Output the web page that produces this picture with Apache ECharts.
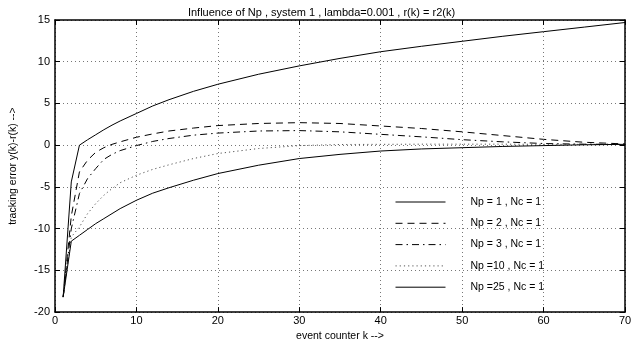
<!DOCTYPE html>
<html>
<head>
<meta charset="utf-8">
<script src="https://cdn.jsdelivr.net/npm/echarts@6/dist/echarts.min.js"></script>
<style>html,body{margin:0;padding:0;background:#fff}#c{width:643px;height:347px}</style>
</head>
<body>
<div id="c"></div>
<script>
var titleText = 'Influence of Np , system 1 , lambda=0.001 , r(k) = r2(k)';
var xName = 'event counter k -->';
var yName = 'tracking error y(k)-r(k) -->';
var kValues = [1,2,3,4,5,6,7,8,10,12,14,17,20,25,30,35,40,45,50,55,60,65,70];
var seriesNames = ['Np = 1 , Nc = 1','Np = 2 , Nc = 1','Np = 3 , Nc = 1','Np =10 , Nc = 1','Np =25 , Nc = 1'];
var np1  = [-18.2,-4.4,0,0.65,1.25,1.85,2.4,2.9,3.8,4.7,5.45,6.45,7.3,8.5,9.5,10.4,11.2,11.85,12.45,13.05,13.6,14.15,14.7];
var np2  = [-18.2,-8.5,-3.2,-1.8,-0.85,-0.3,0.1,0.4,0.95,1.35,1.7,2.05,2.35,2.6,2.7,2.6,2.3,2.0,1.6,1.15,0.7,0.35,0.15];
var np3  = [-18.2,-10,-5.8,-4.0,-2.8,-1.7,-1.1,-0.65,-0.05,0.45,0.8,1.2,1.45,1.7,1.75,1.6,1.3,1.0,0.66,0.4,0.2,0.12,0.1];
var np10 = [-18.2,-11,-9.8,-8.2,-7.0,-6.0,-5.2,-4.5,-3.6,-2.9,-2.35,-1.6,-1.0,-0.4,-0.05,0.08,0.1,0.12,0.12,0.12,0.1,0.1,0.1];
var np25 = [-18.2,-11.5,-10.8,-10.1,-9.4,-8.8,-8.2,-7.6,-6.6,-5.75,-5.1,-4.2,-3.4,-2.4,-1.6,-1.1,-0.7,-0.45,-0.3,-0.15,-0.05,0.05,0.1];
var xTicks = [0,10,20,30,40,50,60,70];
var yTicks = [-20,-15,-10,-5,0,5,10,15];

var allValues = [np1, np2, np3, np10, np25];
var styles = [
  {type:'solid', color:'#000'},
  {type:[7,5], color:'#000'},
  {type:[7,4,1.5,4], color:'#000'},
  {type:[1.2,3], color:'#555'},
  {type:'solid', color:'#000'}
];
function pairs(v){ return kValues.map(function(k,i){return [k, v[i]];}); }
var FONT = '"Liberation Sans", Arial, sans-serif';
var axisLineStyle = {show:true, onZero:false, lineStyle:{color:'#000', width:1.5}};
var axisTickStyle = {show:true, inside:true, length:5, lineStyle:{color:'#000'}};
var gridLine = {show:true, lineStyle:{color:'#777', type:[1,3], width:1}};
var chart = echarts.init(document.getElementById('c'), null, {renderer:'canvas'});
chart.setOption({
  animation:false,
  backgroundColor:'#fff',
  title:{text:titleText, left:'center', top:2, textStyle:{fontFamily:FONT, fontSize:11, fontWeight:'normal', color:'#000'}},
  grid:{left:53, right:18, top:20, bottom:27.5},
  legend:{
    orient:'vertical', left:395, top:195, padding:0, itemWidth:50, itemHeight:14, itemGap:7.3,
    data:seriesNames,
    itemStyle:{opacity:0},
    lineStyle:{width:1},
    textStyle:{fontFamily:FONT, fontSize:10.5, color:'#000', padding:[0,0,0,20], lineHeight:14}
  },
  xAxis:[
    {type:'value', min:0, max:70, interval:10, position:'bottom',
      name:xName, nameLocation:'middle', nameGap:13,
      nameTextStyle:{fontFamily:FONT, fontSize:10.5, color:'#000'},
      axisLabel:{fontFamily:FONT, fontSize:11, color:'#000', margin:3},
      axisLine:axisLineStyle, axisTick:axisTickStyle, splitLine:gridLine},
    {type:'value', min:0, max:70, interval:10, position:'top',
      axisLabel:{show:false}, axisLine:axisLineStyle, axisTick:axisTickStyle, splitLine:{show:false}}
  ],
  yAxis:[
    {type:'value', min:-20, max:15, interval:5, position:'left',
      name:yName, nameLocation:'middle', nameGap:36, nameRotate:90,
      nameTextStyle:{fontFamily:FONT, fontSize:10.5, color:'#000'},
      axisLabel:{fontFamily:FONT, fontSize:11, color:'#000', margin:5},
      axisLine:axisLineStyle, axisTick:axisTickStyle, splitLine:gridLine},
    {type:'value', min:-20, max:15, interval:5, position:'right',
      axisLabel:{show:false}, axisLine:axisLineStyle, axisTick:axisTickStyle, splitLine:{show:false}}
  ],
  series: allValues.map(function(v,i){
    return {
      name:seriesNames[i], type:'line', xAxisIndex:0, yAxisIndex:0,
      data:pairs(v), showSymbol:false, symbol:'none', smooth:false,
      lineStyle:{width:1, type:styles[i].type, color:styles[i].color},
      itemStyle:{color:styles[i].color}
    };
  })
});
</script>
</body>
</html>
